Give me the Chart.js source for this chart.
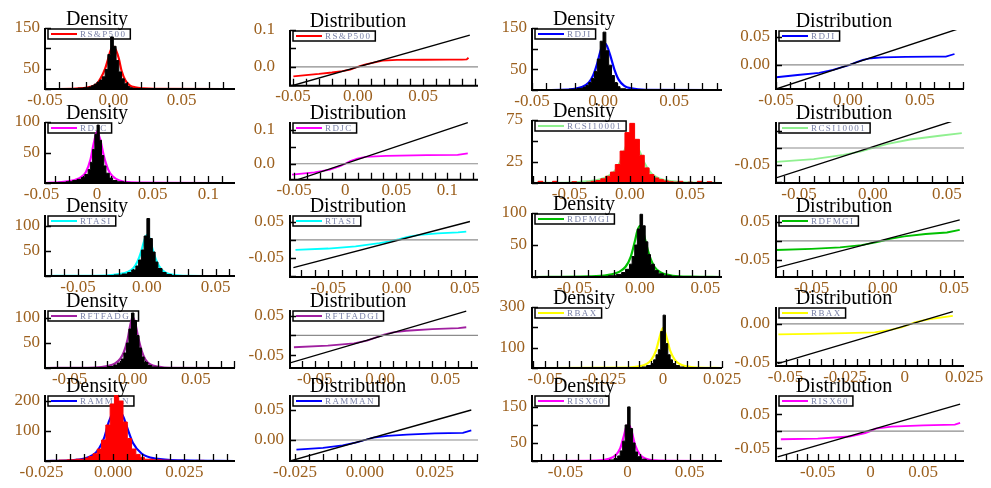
<!DOCTYPE html>
<html><head><meta charset="utf-8">
<script src="https://cdn.jsdelivr.net/npm/chart.js@4.4.1/dist/chart.umd.min.js"></script>
<style>
html,body{margin:0;padding:0;background:#fff;width:991px;height:488px;overflow:hidden;position:relative;}
canvas{position:absolute;}
</style></head><body>
<script>
// ---------------- DATA ----------------
// Row 1: RS&P500
const spHistX = [-0.030,-0.026,-0.022,-0.018,-0.016,-0.014,-0.012,-0.010,-0.008,-0.006,-0.004,-0.002,0.000,0.002,0.004,0.006,0.008,0.010,0.012,0.014,0.018,0.022];
const spHistY = [1,2,3,5,8,12,17,22,30,48,85,128,105,70,42,25,13,6,3,1.5,0.5];
const spDensX = [-0.05,-0.03,-0.022,-0.016,-0.012,-0.009,-0.006,-0.004,-0.002,0.000,0.002,0.004,0.006,0.009,0.012,0.016,0.022,0.03,0.089];
const spDensY = [0,0.5,2,6,13,28,50,72,95,104,95,75,45,20,9,4,1.5,0.3,0];
const spQX = [-0.0497,-0.04,-0.03,-0.02,-0.012,-0.006,-0.002,0.002,0.006,0.012,0.019,0.03,0.05,0.07,0.08,0.0836,0.085];
const spQY = [-0.0256,-0.022,-0.019,-0.015,-0.011,-0.007,-0.002,0.003,0.007,0.012,0.017,0.019,0.0195,0.02,0.02,0.0205,0.025];
const spRefX = [-0.0523,0.086];
const spRefY = [-0.0523,0.086];
// Row 1: RDJI
const djHistX = [-0.030,-0.024,-0.018,-0.014,-0.012,-0.010,-0.008,-0.006,-0.004,-0.002,0.000,0.002,0.004,0.006,0.008,0.010,0.012,0.016,0.022];
const djHistY = [1,2,4,7,11,18,28,45,75,118,140,95,60,35,18,8,3,1];
const djDensX = [-0.05,-0.03,-0.02,-0.015,-0.01,-0.007,-0.004,-0.002,0,0.0015,0.003,0.005,0.008,0.011,0.015,0.02,0.03,0.0838];
const djDensY = [0,0.5,3,7,18,35,65,92,110,113,105,85,50,25,10,4,0.5,0];
const djQX = [-0.0497,-0.035,-0.02,-0.0104,-0.004,0.0014,0.006,0.0104,0.016,0.024,0.04,0.06,0.068,0.074];
const djQY = [-0.022,-0.018,-0.014,-0.009,-0.004,0.0,0.005,0.009,0.012,0.0137,0.0145,0.0148,0.0149,0.0196];
const djRefX = [-0.05,0.076];
const djRefY = [-0.043,0.064];
// Row 2: RDJC
const jcHistX = [-0.035,-0.028,-0.022,-0.018,-0.014,-0.011,-0.008,-0.006,-0.004,-0.002,0,0.002,0.004,0.006,0.008,0.011,0.014,0.018,0.024,0.03];
const jcHistY = [1,2,4,6,9,14,22,34,55,80,95,70,45,28,16,8,4,2,1];
const jcDensX = [-0.0468,-0.03,-0.02,-0.014,-0.01,-0.006,-0.003,0,0.003,0.006,0.01,0.014,0.02,0.03,0.124];
const jcDensY = [0,2,5,10,18,38,65,84,70,45,22,11,4,1,0];
const jcQX = [-0.052,-0.03,-0.015,-0.005,0,0.005,0.012,0.02,0.04,0.08,0.11,0.12];
const jcQY = [-0.032,-0.025,-0.017,-0.007,0,0.008,0.015,0.02,0.023,0.025,0.026,0.03];
const jcRefX = [-0.047,0.12];
const jcRefY = [-0.047,0.12];
// Row 2: RCSI10001
const csHistX = [-0.076,-0.072,-0.064,-0.060,-0.048,-0.044,-0.036,-0.032,-0.028,-0.024,-0.020,-0.016,-0.012,-0.008,-0.004,0.000,0.004,0.008,0.012,0.016,0.020,0.024,0.028,0.032,0.036,0.040,0.044,0.048,0.052,0.056,0.060,0.064,0.068];
const csHistY = [2,0,2,0,1.5,0.5,1,2,3,5,8,13,22,38,60,71,52,33,18,10,6,4,2.5,1.5,1,2,0.5,1,0,2,0.5,1.5];
const csDensX = [-0.081,-0.05,-0.035,-0.025,-0.018,-0.012,-0.008,-0.004,-0.001,0.001,0.004,0.008,0.012,0.018,0.025,0.035,0.05,0.0764];
const csDensY = [0,0.5,2,4,8,15,25,40,52,54,48,38,24,11,5,2,0.5,0];
const csQX = [-0.0655,-0.04,-0.02,-0.008,0,0.01,0.025,0.045,0.06];
const csQY = [-0.041,-0.033,-0.02,-0.01,0,0.012,0.025,0.036,0.044];
const csRefX = [-0.0655,0.058];
const csRefY = [-0.088,0.085];
// Row 3: RTASI
const taHistX = [-0.03,-0.024,-0.018,-0.014,-0.011,-0.008,-0.006,-0.004,-0.002,0,0.002,0.004,0.006,0.008,0.011,0.014,0.018,0.024];
const taHistY = [1,2,4,7,12,20,32,52,80,115,75,48,28,15,7,3,1];
const taDensX = [-0.074,-0.03,-0.02,-0.014,-0.01,-0.007,-0.004,-0.002,0,0.002,0.004,0.007,0.01,0.014,0.02,0.03,0.064];
const taDensY = [0,1,4,8,15,28,50,70,82,75,55,30,15,6,2,0.5,0];
const taQX = [-0.074,-0.05,-0.03,-0.0125,-0.005,0.002,0.008,0.017,0.03,0.045,0.051];
const taQY = [-0.028,-0.024,-0.018,-0.009,-0.004,0.002,0.008,0.014,0.018,0.021,0.023];
const taRefX = [-0.0755,0.0537];
const taRefY = [-0.077,0.051];
// Row 3: RDFMGI
const dfHistX = [-0.03,-0.024,-0.018,-0.014,-0.011,-0.008,-0.006,-0.004,-0.002,0,0.002,0.004,0.006,0.008,0.011,0.014,0.018,0.024,0.03];
const dfHistY = [1,2,4,7,12,20,32,50,75,98,80,55,35,20,10,5,2,1];
const dfDensX = [-0.0824,-0.04,-0.025,-0.016,-0.011,-0.007,-0.004,-0.002,0,0.002,0.004,0.007,0.011,0.016,0.025,0.04,0.0626];
const dfDensY = [0,1,3,8,16,32,55,72,80,74,58,35,16,7,2,0.5,0];
const dfQX = [-0.075,-0.05,-0.03,-0.015,-0.005,0,0.005,0.015,0.03,0.045,0.054];
const dfQY = [-0.024,-0.021,-0.017,-0.011,-0.004,0,0.005,0.012,0.018,0.022,0.029];
const dfRefX = [-0.075,0.054];
const dfRefY = [-0.071,0.055];
// Row 4: RFTFADGI
const ftHistX = [-0.025,-0.02,-0.015,-0.012,-0.009,-0.007,-0.005,-0.003,-0.001,0.001,0.003,0.005,0.007,0.009,0.012,0.015,0.02,0.025];
const ftHistY = [1,3,6,10,18,30,50,78,110,95,65,40,22,11,5,2,1];
const ftDensX = [-0.0695,-0.03,-0.02,-0.014,-0.01,-0.007,-0.004,-0.002,0,0.002,0.004,0.007,0.01,0.014,0.02,0.03,0.081];
const ftDensY = [0,1,4,9,18,32,58,85,102,90,65,35,17,7,3,0.5,0];
const ftQX = [-0.066,-0.04,-0.02,-0.01,-0.003,0.003,0.01,0.02,0.04,0.06,0.066];
const ftQY = [-0.03,-0.026,-0.02,-0.013,-0.005,0.002,0.008,0.012,0.016,0.019,0.021];
const ftRefX = [-0.069,0.066];
const ftRefY = [-0.07,0.062];
// Row 4: RBAX
const baHistX = [-0.012,-0.009,-0.007,-0.005,-0.004,-0.003,-0.002,-0.001,0,0.001,0.002,0.003,0.004,0.005,0.007,0.009,0.012];
const baHistY = [2,5,12,22,40,65,90,180,260,120,65,40,22,12,5,2];
const baDensX = [-0.0556,-0.015,-0.01,-0.007,-0.005,-0.003,-0.0015,0,0.0015,0.003,0.005,0.007,0.01,0.015,0.025];
const baDensY = [0,2,8,20,40,85,150,197,150,85,40,20,8,2,0];
const baQX = [-0.053,-0.04,-0.025,-0.0126,-0.006,-0.0013,0.0042,0.01,0.0202];
const baQY = [-0.0136,-0.013,-0.012,-0.011,-0.008,-0.0047,0.0018,0.006,0.0105];
const baRefX = [-0.0533,0.0202];
const baRefY = [-0.052,0.016];
// Row 5: RAMMAN
const amHistX = [-0.022,-0.019,-0.016,-0.013,-0.010,-0.0085,-0.007,-0.0055,-0.004,-0.0025,-0.001,0.0005,0.002,0.0035,0.005,0.0065,0.008,0.0095,0.011,0.014,0.017,0.020,0.023,0.026,0.029,0.032,0.035,0.038];
const amHistY = [2,3,4,6,10,15,24,40,70,120,190,220,200,130,75,40,22,12,6,4,3,2,2,1.5,2,1,1];
const amDensX = [-0.0238,-0.015,-0.01,-0.007,-0.005,-0.003,-0.0015,0,0.0017,0.0035,0.005,0.007,0.01,0.015,0.025,0.0427];
const amDensY = [0,2,8,20,40,80,130,160,170,150,110,60,25,8,2,0];
const amQX = [-0.0245,-0.015,-0.008,-0.003,0,0.003,0.008,0.015,0.025,0.035,0.038];
const amQY = [-0.016,-0.013,-0.009,-0.004,0,0.004,0.007,0.009,0.011,0.012,0.016];
const amRefX = [-0.0268,0.038];
const amRefY = [-0.035,0.05];
// Row 5: RISX60
const isHistX = [-0.02,-0.015,-0.011,-0.008,-0.006,-0.004,-0.002,0,0.002,0.004,0.006,0.008,0.011,0.015,0.02];
const isHistY = [1,3,7,14,28,55,100,150,90,50,25,12,5,2];
const isDensX = [-0.077,-0.025,-0.015,-0.01,-0.006,-0.003,-0.001,0.001,0.003,0.006,0.01,0.015,0.025,0.076];
const isDensY = [0,1,6,15,35,70,95,100,85,45,17,6,1,0];
const isQX = [-0.085,-0.05,-0.02,-0.005,0,0.005,0.02,0.05,0.08,0.085];
const isQY = [-0.024,-0.022,-0.016,-0.006,0,0.007,0.013,0.017,0.019,0.024];
const isRefX = [-0.088,0.085];
const isRefY = [-0.076,0.079];

// tick values and labels
const tk05 = [-0.05,0,0.05];
const lb05 = ['-0.05','0.00','0.05'];
const tkJC = [-0.05,0,0.05,0.1];
const lbJC = ['-0.05','0','0.05','0.1'];
const tkBA = [-0.05,-0.025,0,0.025];
const lbBA = ['-0.05','-0.025','0','0.025'];
const tkAM = [-0.025,0,0.025];
const lbAM = ['-0.025','0.000','0.025'];
const tkIS = [-0.05,0,0.05];
const lbIS = ['-0.05','0','0.05'];
const yT150 = [0,50,100,150];      const yL150 = ['','50','','150'];
const yT100 = [0,50,100];          const yL100 = ['','50','100'];
const yT75 = [0,25,50,75];         const yL75 = ['','25','','75'];
const yT300 = [0,100,200,300];     const yL300 = ['','100','','300'];
const yT200 = [0,100,200];         const yL200 = ['','100','200'];
const yTq1 = [-0.05,0,0.05,0.1];   const yLq1 = ['','0.0','','0.1'];
const yTq2 = [-0.05,0,0.05];       const yLq2 = ['-0.05','0.00','0.05'];
const yTq3 = [-0.1,-0.05,0,0.05];  const yLq3 = ['','-0.05','','0.05'];
const yTq4 = [-0.05,0];            const yLq4 = ['-0.05','0.00'];
const yTq5 = [-0.1,-0.05,0,0.05];  const yLq5 = ['','-0.05','',''];
const yTq6 = [-0.05,0,0.05];       const yLq6 = ['-0.05','','0.05'];

// ---------------- RENDERING ----------------
const SERIF = "'Liberation Serif','Times New Roman',serif";
const TICK_COLOR = '#9c601e';
const C1 = [45,235], C2 = [290,478], C3 = [532,722], C4 = [776,964];

const panels = [
 {k:'d',c:C1,t:28,b:89, x:[-0.05,0.089],y:[0,150], xt:tk05,xl:lb05,xs:0.01, yt:yT150,yl:yL150, name:'RS&P500',col:'#ff0000',hc:'#000',hx:spHistX,hy:spHistY,dx:spDensX,dy:spDensY,yp:5},
 {k:'q',c:C2,t:30,b:89, x:[-0.0523,0.0923],y:[-0.051,0.1], xt:tk05,xl:lb05,xs:0.01, yt:yTq1,yl:yLq1, name:'RS&P500',col:'#ff0000',qx:spQX,qy:spQY,rx:spRefX,ry:spRefY,yp:15},
 {k:'d',c:C3,t:28,b:90, x:[-0.05,0.0838],y:[0,150], xt:tk05,xl:lb05,xs:0.01, yt:yT150,yl:yL150, name:'RDJI',col:'#0000ff',hc:'#000',hx:djHistX,hy:djHistY,dx:djDensX,dy:djDensY,yp:5},
 {k:'q',c:C4,t:30,b:89, x:[-0.05,0.0806],y:[-0.043,0.0625], xt:tk05,xl:lb05,xs:0.01, yt:yTq2,yl:yLq2, name:'RDJI',col:'#0000ff',qx:djQX,qy:djQY,rx:djRefX,ry:djRefY,yp:6},

 {k:'d',c:C1,t:122,b:183, x:[-0.0468,0.124],y:[0,100], xt:tkJC,xl:lbJC,xs:0.0125, yt:yT100,yl:yL100, name:'RDJC',col:'#ff00ff',hc:'#000',hx:jcHistX,hy:jcHistY,dx:jcDensX,dy:jcDensY,yp:5},
 {k:'q',c:C2,t:122,b:183, x:[-0.054,0.13],y:[-0.047,0.122], xt:tkJC,xl:lbJC,xs:0.0125, yt:yTq1,yl:yLq1, name:'RDJC',col:'#ff00ff',qx:jcQX,qy:jcQY,rx:jcRefX,ry:jcRefY,yp:15},
 {k:'d',c:C3,t:120,b:183, x:[-0.081,0.0764],y:[0,75], xt:tk05,xl:lb05,xs:0.01, yt:yT75,yl:yL75, name:'RCSI10001',col:'#90f090',hc:'#ff0000',hx:csHistX,hy:csHistY,dx:csDensX,dy:csDensY,yp:9},
 {k:'q',c:C4,t:122,b:183, x:[-0.0655,0.0615],y:[-0.103,0.0765], xt:tk05,xl:lb05,xs:0.01, yt:yTq5,yl:yLq5, name:'RCSI10001',col:'#90f090',qx:csQX,qy:csQY,rx:csRefX,ry:csRefY,yp:6},

 {k:'d',c:C1,t:215,b:276, x:[-0.074,0.064],y:[0,122], xt:tk05,xl:lb05,xs:0.01, yt:yT100,yl:yL100, name:'RTASI',col:'#00ffff',hc:'#000',hx:taHistX,hy:taHistY,dx:taDensX,dy:taDensY,yp:5},
 {k:'q',c:C2,t:215,b:277, x:[-0.078,0.0596],y:[-0.103,0.069], xt:tk05,xl:lb05,xs:0.01, yt:yTq3,yl:yLq3, name:'RTASI',col:'#00ffff',qx:taQX,qy:taQY,rx:taRefX,ry:taRefY,yp:6},
 {k:'d',c:C3,t:213,b:277, x:[-0.0824,0.0626],y:[0,100], xt:tk05,xl:lb05,xs:0.01, yt:yT100,yl:yL100, name:'RDFMGI',col:'#00c000',hc:'#000',hx:dfHistX,hy:dfHistY,dx:dfDensX,dy:dfDensY,yp:5},
 {k:'q',c:C4,t:215,b:277, x:[-0.075,0.057],y:[-0.095,0.068], xt:tk05,xl:lb05,xs:0.01, yt:yTq3,yl:yLq3, name:'RDFMGI',col:'#00c000',qx:dfQX,qy:dfQY,rx:dfRefX,ry:dfRefY,yp:6},

 {k:'d',c:C1,t:310,b:368, x:[-0.0695,0.081],y:[0,116], xt:tk05,xl:lb05,xs:0.01, yt:yT100,yl:yL100, name:'RFTFADGI',col:'#a020a0',hc:'#000',hx:ftHistX,hy:ftHistY,dx:ftDensX,dy:ftDensY,yp:5},
 {k:'q',c:C2,t:310,b:368, x:[-0.069,0.075],y:[-0.083,0.065], xt:tk05,xl:lb05,xs:0.01, yt:yTq3,yl:yLq3, name:'RFTFADGI',col:'#a020a0',qx:ftQX,qy:ftQY,rx:ftRefX,ry:ftRefY,yp:6},
 {k:'d',c:C3,t:307,b:368, x:[-0.0556,0.025],y:[0,300], xt:tkBA,xl:lbBA,xs:0.005, yt:yT300,yl:yL300, name:'RBAX',col:'#ffff00',hc:'#000',hx:baHistX,hy:baHistY,dx:baDensX,dy:baDensY,yp:7},
 {k:'q',c:C4,t:307,b:366, x:[-0.054,0.0249],y:[-0.055,0.022], xt:tkBA,xl:lbBA,xs:0.005, yt:yTq4,yl:yLq4, name:'RBAX',col:'#ffff00',qx:baQX,qy:baQY,rx:baRefX,ry:baRefY,yp:6},

 {k:'d',c:C1,t:395,b:461, x:[-0.0238,0.0427],y:[0,220], xt:tkAM,xl:lbAM,xs:0.005, yt:yT200,yl:yL200, name:'RAMMAN',col:'#0000ff',hc:'#ff0000',hx:amHistX,hy:amHistY,dx:amDensX,dy:amDensY,yp:5},
 {k:'q',c:C2,t:395,b:461, x:[-0.0268,0.0404],y:[-0.035,0.075], xt:tkAM,xl:lbAM,xs:0.005, yt:yTq2,yl:yLq2, name:'RAMMAN',col:'#0000ff',qx:amQX,qy:amQY,rx:amRefX,ry:amRefY,yp:6},
 {k:'d',c:C3,t:395,b:461, x:[-0.077,0.076],y:[0,183], xt:tkIS,xl:lbIS,xs:0.01, yt:yT150,yl:yL150, name:'RISX60',col:'#ff00ff',hc:'#000',hx:isHistX,hy:isHistY,dx:isDensX,dy:isDensY,yp:5},
 {k:'q',c:C4,t:395,b:461, x:[-0.0896,0.0887],y:[-0.088,0.106], xt:tkIS,xl:lbIS,xs:0.01, yt:yTq6,yl:yLq6, name:'RISX60',col:'#ff00ff',qx:isQX,qy:isQY,rx:isRefX,ry:isRefY,yp:6},
];

function pts(xs, ys) { return xs.map((x, i) => ({x, y: ys[i]})); }
function labelOf(v, tv, tl) {
  for (let i = 0; i < tv.length; i++) if (Math.abs(v - tv[i]) < 1e-9) return tl[i];
  return '';
}
function minorTicks(min, max, step) {
  const out = [];
  let v = Math.ceil(min / step - 1e-9) * step;
  for (; v <= max + 1e-12; v += step) out.push(v);
  return out;
}

function decoPlugin(p) {
  return {
    id: 'deco',
    beforeDatasetsDraw(chart) {
      const ctx = chart.ctx, a = chart.chartArea;
      ctx.save();
      ctx.font = '9px ' + SERIF;
      if ('letterSpacing' in ctx) ctx.letterSpacing = '1.4px';
      const tw = ctx.measureText(p.name).width;
      const bx = a.left + 3, by = a.top + 1, bh = 10, bw = 33 + tw + 3;
      ctx.fillStyle = '#fff'; ctx.fillRect(bx, by, bw, bh);
      ctx.strokeStyle = '#000'; ctx.lineWidth = 1.5; ctx.strokeRect(bx, by, bw, bh);
      ctx.strokeStyle = p.col; ctx.lineWidth = 2;
      ctx.beginPath(); ctx.moveTo(bx + 3, by + bh / 2); ctx.lineTo(bx + 29, by + bh / 2); ctx.stroke();
      ctx.fillStyle = '#7a82a8'; ctx.textBaseline = 'middle'; ctx.textAlign = 'left';
      ctx.fillText(p.name, bx + 32, by + bh / 2 + 0.5);
      ctx.restore();
    },
    afterDraw(chart) {
      const ctx = chart.ctx, a = chart.chartArea, xs = chart.scales.x, ys = chart.scales.y;
      ctx.save();
      ctx.strokeStyle = '#000'; ctx.lineWidth = 2;
      ctx.beginPath();
      ctx.moveTo(a.left, a.top); ctx.lineTo(a.left, a.bottom); ctx.lineTo(a.right, a.bottom);
      ctx.stroke();
      ctx.lineWidth = 1.3;
      ctx.beginPath();
      for (const v of minorTicks(p.x[0], p.x[1], p.xs)) {
        const px = Math.round(xs.getPixelForValue(v)) + 0.5;
        ctx.moveTo(px, a.bottom); ctx.lineTo(px, a.bottom - 7);
      }
      for (const v of p.yt) {
        if (v < p.y[0] - 1e-12 || v > p.y[1] + 1e-12) continue;
        const py = Math.round(ys.getPixelForValue(v)) + 0.5;
        ctx.moveTo(a.left, py); ctx.lineTo(a.left + 6, py);
      }
      ctx.stroke();
      // title
      ctx.fillStyle = '#000';
      ctx.font = '20px ' + SERIF;
      ctx.textAlign = 'center'; ctx.textBaseline = 'alphabetic';
      const title = p.k === 'd' ? 'Density' : 'Distribution';
      ctx.fillText(title, a.left + (p.k === 'd' ? 52 : 68), a.top - 3);
      ctx.restore();
    }
  };
}

function makePanel(p) {
  const PL = 50, PT = 30, PR = 32, PB = 22;
  const w = p.c[1] - p.c[0], h = p.b - p.t;
  const cv = document.createElement('canvas');
  cv.width = w + PL + PR; cv.height = h + PT + PB;
  cv.style.left = (p.c[0] - PL) + 'px'; cv.style.top = (p.t - PT) + 'px';
  document.body.appendChild(cv);
  let datasets;
  if (p.k === 'd') {
    const hist = [{x: p.hx[0], y: 0}].concat(p.hy.map((v, i) => ({x: p.hx[i], y: v})));
    hist.push({x: p.hx[p.hx.length - 1], y: 0});
    datasets = [
      {data: hist, stepped: true, fill: 'origin', backgroundColor: p.hc, borderColor: p.hc, borderWidth: 1, pointRadius: 0},
      {data: pts(p.dx, p.dy), borderColor: p.col, borderWidth: 2.2, cubicInterpolationMode: 'monotone', fill: false, pointRadius: 0}
    ];
  } else {
    datasets = [
      {data: [{x: p.x[0], y: 0}, {x: p.x[1], y: 0}], borderColor: '#8c8c8c', borderWidth: 1.2, pointRadius: 0, fill: false},
      {data: pts(p.rx, p.ry), borderColor: '#000', borderWidth: 1.4, pointRadius: 0, fill: false},
      {data: pts(p.qx, p.qy), borderColor: p.col, borderWidth: 1.8, pointRadius: 0, fill: false}
    ];
  }
  new Chart(cv, {
    type: 'line',
    data: {datasets},
    options: {
      responsive: false, animation: false, devicePixelRatio: 1,
      layout: {padding: {left: 0, top: PT, right: PR, bottom: 0}},
      plugins: {legend: {display: false}, tooltip: {enabled: false}},
      scales: {
        x: {
          type: 'linear', min: p.x[0], max: p.x[1],
          grid: {display: false, drawTicks: false}, border: {display: false},
          ticks: {autoSkip: false, maxRotation: 0, padding: 1, color: TICK_COLOR, font: {family: SERIF, size: 17},
                  callback: (v) => labelOf(v, p.xt, p.xl)},
          afterBuildTicks: (s) => { s.ticks = p.xt.map(v => ({value: v})); },
          afterFit: (s) => { s.height = PB; }
        },
        y: {
          type: 'linear', min: p.y[0], max: p.y[1],
          grid: {display: false, drawTicks: false}, border: {display: false},
          ticks: {autoSkip: false, padding: p.yp, color: TICK_COLOR, font: {family: SERIF, size: 17},
                  callback: (v) => labelOf(v, p.yt, p.yl)},
          afterBuildTicks: (s) => { s.ticks = p.yt.filter(v => v >= p.y[0] - 1e-12 && v <= p.y[1] + 1e-12).map(v => ({value: v})); },
          afterFit: (s) => { s.width = PL; }
        }
      }
    },
    plugins: [decoPlugin(p)]
  });
}
panels.forEach(makePanel);
</script>
</body></html>
